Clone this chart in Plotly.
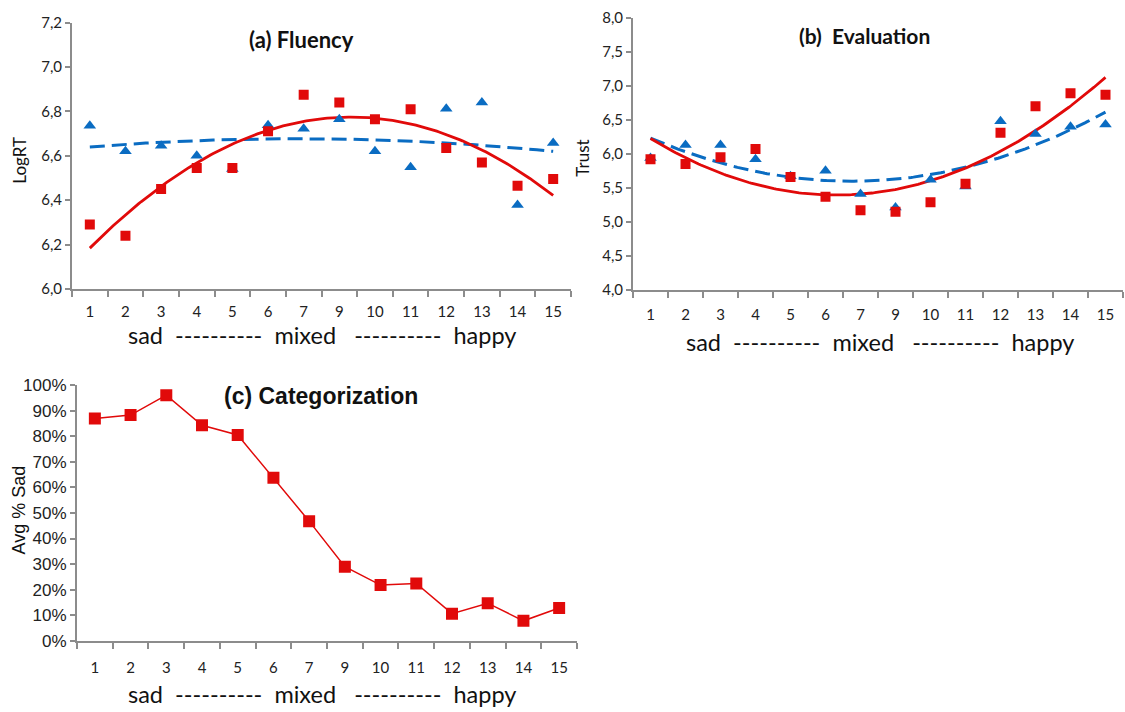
import numpy as np
import plotly.graph_objects as go

# ---------------- data ----------------
levels = ["1", "2", "3", "4", "5", "6", "7", "9", "10", "11", "12", "13", "14", "15"]

fluency_red = [6.29, 6.24, 6.45, 6.545, 6.545, 6.71, 6.875, 6.84, 6.765, 6.81, 6.635, 6.57, 6.465, 6.495]
fluency_blue = [6.735, 6.62, 6.645, 6.60, 6.54, 6.738, 6.722, 6.765, 6.62, 6.548, 6.812, 6.84, 6.378, 6.658]

trust_red = [5.92, 5.85, 5.95, 6.07, 5.66, 5.37, 5.17, 5.15, 5.29, 5.56, 6.31, 6.70, 6.89, 6.87]
trust_blue = [5.94, 6.13, 6.13, 5.92, 5.67, 5.75, 5.41, 5.21, 5.62, 5.52, 6.48, 6.29, 6.40, 6.43]

categ_sad = [0.87, 0.883, 0.961, 0.843, 0.805, 0.638, 0.468, 0.29, 0.218, 0.224, 0.106, 0.147, 0.078, 0.128]

axis_label = "sad  ----------  mixed   ----------  happy"

RED = "#E10A0A"
BLUE = "#0A6CC2"
AXC = "#8C8C8C"

n = len(levels)
pos = np.arange(n)
fine = np.linspace(0, n - 1, 200)


def trend(vals, deg):
    c = np.polyfit(pos + 1, vals, deg)
    return np.polyval(c, fine + 1)


fig = go.Figure()

# ---- panel a ----
fig.add_trace(go.Scatter(x=fine, y=trend(fluency_blue, 2), mode="lines",
                         line=dict(color=BLUE, width=3, dash="15px,7px"),
                         xaxis="x", yaxis="y", hoverinfo="skip"))
fig.add_trace(go.Scatter(x=fine, y=trend(fluency_red, 2), mode="lines",
                         line=dict(color=RED, width=2.8),
                         xaxis="x", yaxis="y", hoverinfo="skip"))
fig.add_trace(go.Scatter(x=pos, y=fluency_blue, mode="markers",
                         marker=dict(symbol="triangle-up", size=11, color=BLUE),
                         xaxis="x", yaxis="y"))
fig.add_trace(go.Scatter(x=pos, y=fluency_red, mode="markers",
                         marker=dict(symbol="square", size=10, color=RED),
                         xaxis="x", yaxis="y"))

# ---- panel b ----
fig.add_trace(go.Scatter(x=fine, y=trend(trust_blue, 2), mode="lines",
                         line=dict(color=BLUE, width=3, dash="15px,7px"),
                         xaxis="x2", yaxis="y2", hoverinfo="skip"))
fig.add_trace(go.Scatter(x=fine, y=trend(trust_red, 2), mode="lines",
                         line=dict(color=RED, width=2.8),
                         xaxis="x2", yaxis="y2", hoverinfo="skip"))
fig.add_trace(go.Scatter(x=pos, y=trust_blue, mode="markers",
                         marker=dict(symbol="triangle-up", size=11, color=BLUE),
                         xaxis="x2", yaxis="y2"))
fig.add_trace(go.Scatter(x=pos, y=trust_red, mode="markers",
                         marker=dict(symbol="square", size=10, color=RED),
                         xaxis="x2", yaxis="y2"))

# ---- panel c ----
fig.add_trace(go.Scatter(x=pos, y=categ_sad, mode="lines+markers",
                         line=dict(color=RED, width=1.5),
                         marker=dict(symbol="square", size=12, color=RED),
                         xaxis="x3", yaxis="y3"))

W, H = 1125, 712


def px(x):
    return x / W


def py(y):
    return 1 - y / H


tickfont_cal = dict(family="Lato, sans-serif", size=15, color="#222")
tickfont_ar = dict(family="Liberation Sans, Arial, sans-serif", size=17, color="#222")


def xaxis(domain, anchor, font, standoff):
    return dict(domain=domain, anchor=anchor, range=[-0.5, n - 0.5],
                tickmode="array", tickvals=list(pos), ticktext=levels,
                ticks="", showline=True, linecolor=AXC, linewidth=2,
                showgrid=False, zeroline=False, tickfont=dict(tickfont_cal, size=15),
                ticklabelstandoff=standoff,
                minor=dict(tickmode="array", tickvals=list(np.arange(-0.5, n, 1.0)),
                           ticks="outside", ticklen=6, tickcolor=AXC, tickwidth=1.5,
                           showgrid=False))


def yaxis(domain, anchor, rng, dtick, fmt, font):
    return dict(domain=domain, anchor=anchor, range=rng, dtick=dtick, tickformat=fmt,
                ticks="outside", ticklen=5, tickcolor=AXC, tickwidth=1.5,
                showline=True, linecolor=AXC, linewidth=2, showgrid=False,
                zeroline=False, tickfont=font)


fig.update_layout(
    width=W, height=H, margin=dict(l=0, r=0, t=0, b=0),
    paper_bgcolor="white", plot_bgcolor="white", showlegend=False,
    separators=",.",
    xaxis=xaxis([px(72), px(571)], "y", tickfont_cal, 8),
    yaxis=yaxis([py(287), py(13)], "x", [6.0, 7.2], 0.2, ".1f", tickfont_cal),
    xaxis2=xaxis([px(633), px(1123)], "y2", tickfont_cal, 10),
    yaxis2=yaxis([py(288), py(8)], "x2", [4.0, 8.0], 0.5, ".1f", tickfont_cal),
    xaxis3=xaxis([px(77), px(577)], "y3", tickfont_cal, 12),
    yaxis3=yaxis([py(649), py(386)], "x3", [0, 1.0], 0.1, ".0%", tickfont_ar),
)

ann = [
    dict(text="<b>(a) Fluency</b>", x=px(301), y=py(30), font=dict(family="Lato", size=22, color="#111")),
    dict(text="<b>(b)  Evaluation</b>", x=px(864), y=py(26), font=dict(family="Lato", size=21, color="#111")),
    dict(text="<b>(c) Categorization</b>", x=px(321), y=py(397), font=dict(family="Liberation Sans", size=23, color="#111")),
    dict(text="LogRT", x=px(20), y=py(155), textangle=-90, font=dict(family="Lato", size=17, color="#111")),
    dict(text="Trust", x=px(583), y=py(153), textangle=-90, font=dict(family="Lato", size=17, color="#111")),
    dict(text="Avg % Sad", x=px(19), y=py(515), textangle=-90, font=dict(family="Liberation Sans", size=18, color="#111")),
    dict(text=axis_label, x=px(322), y=py(334), font=dict(family="Lato", size=23.5, color="#111")),
    dict(text=axis_label, x=px(880), y=py(342), font=dict(family="Lato", size=23.5, color="#111")),
    dict(text=axis_label, x=px(322), y=py(704), font=dict(family="Lato", size=23.5, color="#111")),
]
for a in ann:
    a.update(xref="paper", yref="paper", showarrow=False, xanchor="center", yanchor="middle")
fig.update_layout(annotations=ann)

fig.write_html("out.html")
